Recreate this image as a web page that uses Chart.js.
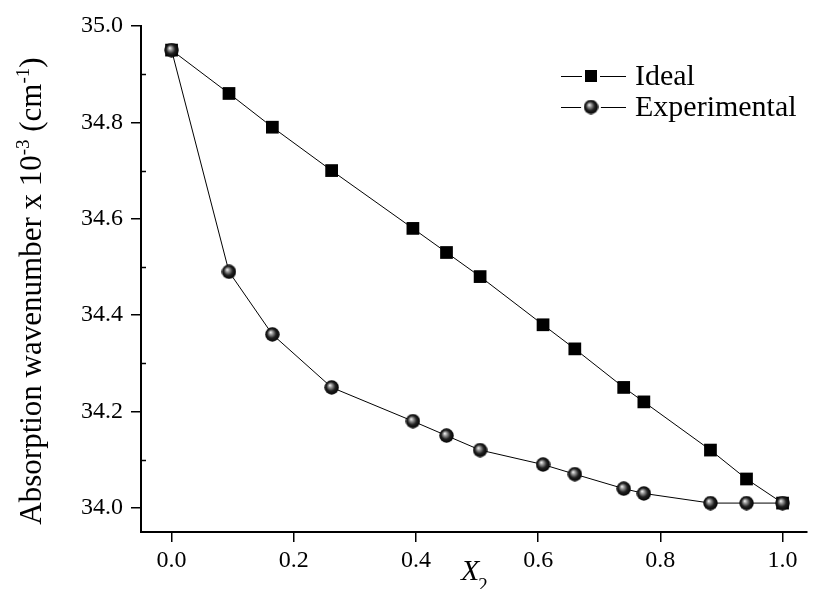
<!DOCTYPE html>
<html>
<head>
<meta charset="utf-8">
<script src="https://cdn.jsdelivr.net/npm/chart.js@4.4.0/dist/chart.umd.min.js"></script>
<style>
html,body{margin:0;padding:0;background:#fff;}
#wrap{width:816px;height:589px;position:relative;}
</style>
</head>
<body>
<div id="wrap"><canvas id="c" width="816" height="589"></canvas></div>
<script>
// ---- data ----
const xValues = [0, 0.094, 0.165, 0.262, 0.395, 0.45, 0.505, 0.608, 0.66, 0.74, 0.773, 0.882, 0.941, 1.0];
const idealValues = [34.95, 34.86, 34.79, 34.70, 34.58, 34.53, 34.48, 34.38, 34.33, 34.25, 34.22, 34.12, 34.06, 34.01];
const experimentalValues = [34.95, 34.49, 34.36, 34.25, 34.18, 34.15, 34.12, 34.09, 34.07, 34.04, 34.03, 34.01, 34.01, 34.01];
const seriesNames = ['Ideal', 'Experimental'];
const xTicks = [0, 0.2, 0.4, 0.6, 0.8, 1.0];
const xTickLabels = ['0.0', '0.2', '0.4', '0.6', '0.8', '1.0'];
const yTicks = [34.0, 34.2, 34.4, 34.6, 34.8, 35.0];
const yTickLabels = ['34.0', '34.2', '34.4', '34.6', '34.8', '35.0'];
const yMinorTicks = [34.1, 34.3, 34.5, 34.7, 34.9];

const SERIF = '"Liberation Serif", "Times New Roman", serif';

// sphere marker
function makeSphere(d) {
  const cv = document.createElement('canvas');
  cv.width = d; cv.height = d;
  const g = cv.getContext('2d');
  const r = d / 2;
  const grad = g.createRadialGradient(r * 0.75, r * 0.7, 0, r, r, r);
  grad.addColorStop(0, '#ffffff');
  grad.addColorStop(0.25, '#9a9a9a');
  grad.addColorStop(0.6, '#202020');
  grad.addColorStop(1, '#000000');
  g.fillStyle = grad;
  g.beginPath(); g.arc(r, r, r - 0.3, 0, Math.PI * 2); g.fill();
  return cv;
}
const sphere = makeSphere(15);

const toPts = (ys) => xValues.map((x, i) => ({ x: x, y: ys[i] }));

const minorTicksPlugin = {
  id: 'minorTicks',
  afterDraw(chart) {
    const ctx = chart.ctx, y = chart.scales.y, x = chart.scales.x;
    ctx.save();
    ctx.strokeStyle = '#000'; ctx.lineWidth = 1.5;
    yMinorTicks.forEach(v => {
      const py = Math.round(y.getPixelForValue(v)) + 0.5;
      ctx.beginPath(); ctx.moveTo(x.left, py); ctx.lineTo(x.left + 5, py); ctx.stroke();
    });
    ctx.restore();
  }
};

const titlesPlugin = {
  id: 'titles',
  afterDraw(chart) {
    const ctx = chart.ctx;
    ctx.save();
    ctx.fillStyle = '#000';
    // x title
    ctx.textBaseline = 'alphabetic';
    ctx.textAlign = 'left';
    ctx.font = 'italic 30px ' + SERIF;
    ctx.fillText('X', 461, 580);
    const wX = ctx.measureText('X').width;
    ctx.font = '19px ' + SERIF;
    ctx.fillText('2', 461 + wX - 1, 591);
    // y title rotated
    const parts = [
      { t: 'Absorption wavenumber x 10', sup: false },
      { t: '-3', sup: true },
      { t: ' (cm', sup: false },
      { t: '-1', sup: true },
      { t: ')', sup: false }
    ];
    const big = '31px ', small = '19px ';
    let total = 0;
    parts.forEach(p => { ctx.font = (p.sup ? small : big) + SERIF; p.w = ctx.measureText(p.t).width; total += p.w; });
    ctx.translate(41, 291);
    ctx.rotate(-Math.PI / 2);
    let cx = -total / 2;
    parts.forEach(p => {
      ctx.font = (p.sup ? small : big) + SERIF;
      ctx.fillText(p.t, cx, p.sup ? -12 : 0);
      cx += p.w;
    });
    ctx.restore();
  }
};

const legendPlugin = {
  id: 'customLegend',
  afterDraw(chart) {
    const ctx = chart.ctx;
    ctx.save();
    const rows = [
      { name: seriesNames[0], y: 76, ds: chart.data.datasets[0] },
      { name: seriesNames[1], y: 107, ds: chart.data.datasets[1] }
    ];
    rows.forEach(r => {
      ctx.strokeStyle = '#000'; ctx.lineWidth = 1;
      ctx.beginPath(); ctx.moveTo(561, r.y + 0.5); ctx.lineTo(626, r.y + 0.5); ctx.stroke();
      if (r.ds.pointStyle === 'rect') {
        ctx.fillStyle = '#fff';
        ctx.fillRect(582, r.y - 8, 18, 17);
        ctx.fillStyle = '#000';
        ctx.fillRect(585, r.y - 6, 12, 12);
      } else {
        ctx.fillStyle = '#fff';
        ctx.beginPath(); ctx.arc(591, r.y, 10, 0, Math.PI * 2); ctx.fill();
        ctx.drawImage(sphere, 591 - 7.5, r.y - 7.5);
      }
      ctx.fillStyle = '#000';
      ctx.font = '30px ' + SERIF;
      ctx.textBaseline = 'middle';
      ctx.textAlign = 'left';
      ctx.fillText(r.name, 635, r.y + 1);
    });
    ctx.restore();
  }
};

new Chart(document.getElementById('c'), {
  type: 'scatter',
  data: {
    datasets: [
      {
        label: seriesNames[0],
        data: toPts(idealValues),
        showLine: true,
        borderColor: '#000',
        borderWidth: 1,
        backgroundColor: '#000',
        pointStyle: 'rect',
        pointRadius: 9,
        pointHoverRadius: 9,
        pointBorderWidth: 0,
        tension: 0,
        order: 2
      },
      {
        label: seriesNames[1],
        data: toPts(experimentalValues),
        showLine: true,
        borderColor: '#000',
        borderWidth: 1,
        backgroundColor: '#000',
        pointStyle: sphere,
        pointRadius: 7.5,
        pointHoverRadius: 7.5,
        tension: 0,
        order: 1
      }
    ]
  },
  options: {
    responsive: false,
    animation: false,
    devicePixelRatio: 1,
    layout: { padding: { left: 0, right: 0, top: 26, bottom: 0 } },
    plugins: { legend: { display: false }, tooltip: { enabled: false } },
    scales: {
      x: {
        type: 'linear',
        min: -0.05, max: 1.04,
        afterBuildTicks: (s) => { s.ticks = xTicks.map(v => ({ value: v })); },
        afterFit: (s) => { s.height = 57; },
        ticks: {
          color: '#000',
          font: { family: SERIF, size: 24 },
          padding: 4,
          maxRotation: 0,
          callback: (v) => { const i = xTicks.findIndex(t => Math.abs(t - v) < 1e-9); return i >= 0 ? xTickLabels[i] : ''; }
        },
        grid: { drawOnChartArea: false, drawTicks: true, tickLength: 10, color: '#000', lineWidth: 1.5 },
        border: { display: true, color: '#000', width: 2 }
      },
      y: {
        type: 'linear',
        min: 33.95, max: 35.0,
        afterBuildTicks: (s) => { s.ticks = yTicks.map(v => ({ value: v })); },
        afterFit: (s) => { s.width = 141; },
        ticks: {
          color: '#000',
          font: { family: SERIF, size: 24 },
          padding: 8,
          callback: (v) => { const i = yTicks.findIndex(t => Math.abs(t - v) < 1e-9); return i >= 0 ? yTickLabels[i] : ''; }
        },
        grid: { drawOnChartArea: false, drawTicks: true, tickLength: 10, color: '#000', lineWidth: 1.5 },
        border: { display: true, color: '#000', width: 2 }
      }
    }
  },
  plugins: [minorTicksPlugin, titlesPlugin, legendPlugin]
});
</script>
</body>
</html>
